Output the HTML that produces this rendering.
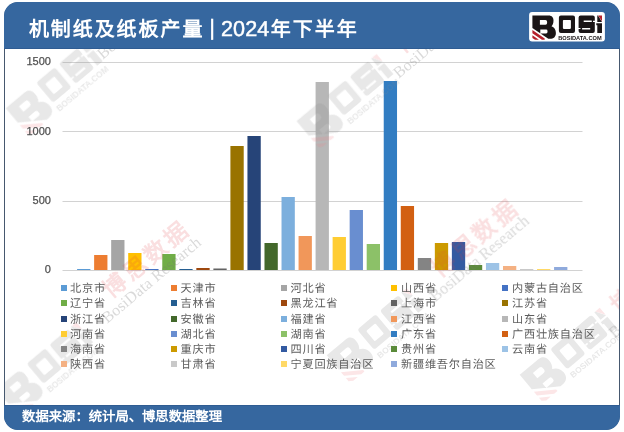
<!DOCTYPE html>
<html lang="zh-CN">
<head>
<meta charset="utf-8">
<title>机制纸及纸板产量 | 2024年下半年</title>
<style>
html,body{margin:0;padding:0;background:#fff;}
body{width:624px;height:432px;position:relative;overflow:hidden;font-family:"Liberation Sans",sans-serif;}
.panel{position:absolute;left:4px;top:2px;width:616px;height:427.5px;border-radius:14px;overflow:hidden;}
.frame{position:absolute;left:4px;top:2px;width:616px;height:427.5px;border-radius:14px;box-sizing:border-box;border:1.1px solid #46586F;pointer-events:none;}
.hdr{position:absolute;left:0;top:0;width:616px;height:46.5px;background:#36679F;box-sizing:border-box;border-bottom:1px solid #2F5C92;}
.ftr{position:absolute;left:0;top:403.2px;width:616px;height:25px;background:#36679F;box-sizing:border-box;border-top:1px solid #2F5C92;}
.title{position:absolute;left:28.9px;top:14.4px;color:#fff;line-height:30px;white-space:nowrap;text-rendering:geometricPrecision;font-size:20px;font-weight:700;}
.title .cj{letter-spacing:1.93px;}
.title .cj2{letter-spacing:2.0px;}
.title .bar{font-size:22px;font-weight:400;margin-left:-1.11px;white-space:pre;position:relative;top:-1.7px;-webkit-text-stroke:0.4px #fff;}
.title .num{font-size:21.6px;font-weight:400;letter-spacing:0.15px;margin-left:-0.31px;position:relative;top:-0.6px;-webkit-text-stroke:0.45px #fff;}
.src{position:absolute;left:22.1px;top:406.5px;color:#fff;font-size:13.34px;text-rendering:geometricPrecision;font-weight:700;line-height:20px;white-space:nowrap;}
svg{position:absolute;left:0;top:0;}
.yl{position:absolute;left:0;width:50.9px;text-align:right;font-size:11px;line-height:14px;color:#505050;-webkit-text-stroke:0.25px #505050;}
.m{position:absolute;width:6.5px;height:6px;display:block;}
.lg{position:absolute;font-size:11.2px;letter-spacing:0.75px;line-height:16px;color:#5c5c5c;white-space:nowrap;text-rendering:geometricPrecision;}
.k{fill:currentColor;} .r{fill:var(--r);}
.wm{color:#8c8c8c;--r:#f08088;}
.hl{color:#1a1516;--r:#B5202B;}
</style>
</head>
<body>
<svg width="624" height="432" viewBox="0 0 624 432">
<defs>
<symbol id="logo" viewBox="0 0 78 32" overflow="visible">
  <!-- B -->
  <path class="k" fill-rule="evenodd" d="M3.3 3.5 H19.5 C23 3.5 24.4 5.6 24.4 8.6 C24.4 11.4 23.6 13.2 22.4 14.4 C25.2 15.6 26.8 17.8 26.8 21 C26.8 25 24.4 26.8 21 26.8 H19.2 L3.3 16 Z
     M10.8 8.2 h5.6 q1.6 0 1.6 1.6 v1.4 q0 1.6 -1.6 1.6 h-5.6 Z
     M11.2 17.7 h5.8 q1.4 0 1.4 1.4 v1.0 q0 1.4 -1.4 1.4 h-5.8 Z"/>
  <!-- red stripes -->
  <path class="r" d="M3.3 18.2 L15.6 26.6 V27.9 H12.8 L3.3 21.4 Z M3.3 23.4 L9.8 27.9 H5.9 L3.3 26.1 Z"/>
  <!-- O -->
  <path class="k" fill-rule="evenodd" d="M31.8 3.5 h12.1 q2 0 2 2 v13.5 q0 2 -2 2 h-12.1 q-2 0 -2 -2 v-13.5 q0 -2 2 -2 Z M34.6 8 h6.4 q0.8 0 0.8 0.8 v7.4 q0 0.8 -0.8 0.8 h-6.4 q-0.8 0 -0.8 -0.8 v-7.4 q0 -0.8 0.8 -0.8 Z"/>
  <!-- S -->
  <path class="k" fill-rule="evenodd" d="M51.5 3.5 h12.2 q2 0 2 2 v13.5 q0 2 -2 2 h-12.2 q-2 0 -2 -2 v-13.5 q0 -2 2 -2 Z
     M54.6 8.5 h8.1 v1.5 h-8.1 Z M63.9 8.9 h1.8 v1.1 h-1.8 Z
     M53.0 16.0 h8.1 v1.5 h-8.1 Z M49.5 16.0 h1.9 v1.1 h-1.9 Z"/>
  <!-- i -->
  <path class="k" d="M68.2 3.5 H68.9 L72.9 10.0 H68.2 Z M67.2 11.4 H72.9 V21 H68.2 V13.4 H67.2 Z"/>
  <path class="r" d="M69.1 3.5 H72.9 V9.6 Z"/>
  <text class="k" x="29.1" y="28.1" font-family="Liberation Sans, sans-serif" font-weight="700" font-size="5.5" textLength="43.4" lengthAdjust="spacingAndGlyphs">BOSIDATA.COM</text>
</symbol>
<clipPath id="wc"><rect x="5" y="48" width="614" height="357"/></clipPath>
</defs>
<g>
<rect x="62.5" y="62" width="520" height="1" fill="#D2D2D2"/>
<rect x="62.5" y="131" width="520" height="1" fill="#D2D2D2"/>
<rect x="62.5" y="201" width="520" height="1" fill="#D2D2D2"/>
<rect x="62.5" y="270" width="520" height="1" fill="#D2D2D2"/>
<rect x="77.10" y="269.00" width="13.3" height="1.00" fill="#5B9BD5"/>
<rect x="94.13" y="255.00" width="13.3" height="15.00" fill="#ED7D31"/>
<rect x="111.17" y="240.00" width="13.3" height="30.00" fill="#A5A5A5"/>
<rect x="128.20" y="253.00" width="13.3" height="17.00" fill="#FFC000"/>
<rect x="145.24" y="269.00" width="13.3" height="1.00" fill="#4472C4"/>
<rect x="162.27" y="254.00" width="13.3" height="16.00" fill="#70AD47"/>
<rect x="179.31" y="269.00" width="13.3" height="1.00" fill="#255E91"/>
<rect x="196.34" y="268.00" width="13.3" height="2.00" fill="#9E480E"/>
<rect x="213.38" y="268.50" width="13.3" height="1.50" fill="#636363"/>
<rect x="230.41" y="146.00" width="13.3" height="124.00" fill="#997300"/>
<rect x="247.45" y="136.00" width="13.3" height="134.00" fill="#264478"/>
<rect x="264.49" y="243.00" width="13.3" height="27.00" fill="#43682B"/>
<rect x="281.52" y="197.00" width="13.3" height="73.00" fill="#7CAFDD"/>
<rect x="298.56" y="236.00" width="13.3" height="34.00" fill="#F1975A"/>
<rect x="315.59" y="82.00" width="13.3" height="188.00" fill="#B7B7B7"/>
<rect x="332.62" y="237.00" width="13.3" height="33.00" fill="#FFCD33"/>
<rect x="349.66" y="210.00" width="13.3" height="60.00" fill="#698ED0"/>
<rect x="366.70" y="244.00" width="13.3" height="26.00" fill="#8CC168"/>
<rect x="383.73" y="81.00" width="13.3" height="189.00" fill="#327DC2"/>
<rect x="400.76" y="206.00" width="13.3" height="64.00" fill="#D26012"/>
<rect x="417.80" y="258.00" width="13.3" height="12.00" fill="#848484"/>
<rect x="434.84" y="243.00" width="13.3" height="27.00" fill="#CC9A00"/>
<rect x="451.87" y="242.00" width="13.3" height="28.00" fill="#335AA1"/>
<rect x="468.90" y="265.00" width="13.3" height="5.00" fill="#5A8A39"/>
<rect x="485.94" y="263.00" width="13.3" height="7.00" fill="#9DC3E6"/>
<rect x="502.98" y="266.00" width="13.3" height="4.00" fill="#F4B183"/>
<rect x="520.01" y="269.00" width="13.3" height="1.00" fill="#C9C9C9"/>
<rect x="537.04" y="269.00" width="13.3" height="1.00" fill="#FFD966"/>
<rect x="554.08" y="267.00" width="13.3" height="3.00" fill="#8FAADC"/>
</g>
<g clip-path="url(#wc)">
<g class="wm" opacity="0.20">
<g transform="translate(54 85) rotate(-40) scale(1.5) translate(-37.9 -12.3)"><use href="#logo" width="78" height="32"/></g>
<g transform="translate(344.8 97.9) rotate(-40) scale(1.5) translate(-37.9 -12.3)"><use href="#logo" width="78" height="32"/></g>
<g transform="translate(44.5 366) rotate(-40) scale(1.5) translate(-37.9 -12.3)"><use href="#logo" width="78" height="32"/></g>
<g transform="translate(568 351.6) rotate(-40) scale(1.5) translate(-37.9 -12.3)"><use href="#logo" width="78" height="32"/></g>
<g transform="translate(375 332) rotate(-40) scale(1.5) translate(-37.9 -12.3)"><use href="#logo" width="78" height="32"/></g>
</g>
<g>
<g transform="translate(175.4 234) rotate(-40)"><text x="-90.7" y="8.6" font-family="Liberation Serif, serif" font-weight="700" font-size="23" fill="#E23A44" fill-opacity="0.165" letter-spacing="3.4">博思数据</text><text x="-110" y="25" font-family="Liberation Serif, serif" font-size="16" fill="#777" fill-opacity="0.28" textLength="124" lengthAdjust="spacing">BosiData Research</text></g>
<g transform="translate(503.5 212.5) rotate(-40)"><text x="-90.7" y="8.6" font-family="Liberation Serif, serif" font-weight="700" font-size="23" fill="#E23A44" fill-opacity="0.165" letter-spacing="3.4">博思数据</text><text x="-110" y="25" font-family="Liberation Serif, serif" font-size="16" fill="#777" fill-opacity="0.28" textLength="124" lengthAdjust="spacing">BosiData Research</text></g>
<g transform="translate(467 -11) rotate(-40)"><text x="-90.7" y="8.6" font-family="Liberation Serif, serif" font-weight="700" font-size="23" fill="#E23A44" fill-opacity="0.165" letter-spacing="3.4">博思数据</text><text x="-110" y="25" font-family="Liberation Serif, serif" font-size="16" fill="#777" fill-opacity="0.28" textLength="124" lengthAdjust="spacing">BosiData Research</text></g>
<g transform="translate(171 -30) rotate(-40)"><text x="-90.7" y="8.6" font-family="Liberation Serif, serif" font-weight="700" font-size="23" fill="#E23A44" fill-opacity="0.165" letter-spacing="3.4">博思数据</text><text x="-110" y="25" font-family="Liberation Serif, serif" font-size="16" fill="#777" fill-opacity="0.28" textLength="124" lengthAdjust="spacing">BosiData Research</text></g>
<g transform="translate(682.7 249) rotate(-40)"><text x="-90.7" y="8.6" font-family="Liberation Serif, serif" font-weight="700" font-size="23" fill="#E23A44" fill-opacity="0.165" letter-spacing="3.4">博思数据</text><text x="-110" y="25" font-family="Liberation Serif, serif" font-size="16" fill="#777" fill-opacity="0.28" textLength="124" lengthAdjust="spacing">BosiData Research</text></g>
</g>
</g>
</svg>
<span class="yl" style="top:53.9px">1500</span>
<span class="yl" style="top:123.8px">1000</span>
<span class="yl" style="top:193.2px">500</span>
<span class="yl" style="top:262.0px">0</span>
<i class="m" style="left:60.5px;top:284.85px;background:#5B9BD5"></i><span class="lg" style="left:70px;top:280.75px">北京市</span>
<i class="m" style="left:170.5px;top:284.85px;background:#ED7D31"></i><span class="lg" style="left:180.5px;top:280.75px">天津市</span>
<i class="m" style="left:280.7px;top:284.85px;background:#A5A5A5"></i><span class="lg" style="left:290.5px;top:280.75px">河北省</span>
<i class="m" style="left:390.7px;top:284.85px;background:#FFC000"></i><span class="lg" style="left:401px;top:280.75px">山西省</span>
<i class="m" style="left:501.5px;top:284.85px;background:#4472C4"></i><span class="lg" style="left:512px;top:280.75px">内蒙古自治区</span>
<i class="m" style="left:60.5px;top:300.10px;background:#70AD47"></i><span class="lg" style="left:70px;top:296.00px">辽宁省</span>
<i class="m" style="left:170.5px;top:300.10px;background:#255E91"></i><span class="lg" style="left:180.5px;top:296.00px">吉林省</span>
<i class="m" style="left:280.7px;top:300.10px;background:#9E480E"></i><span class="lg" style="left:290.5px;top:296.00px">黑龙江省</span>
<i class="m" style="left:390.7px;top:300.10px;background:#636363"></i><span class="lg" style="left:401px;top:296.00px">上海市</span>
<i class="m" style="left:501.5px;top:300.10px;background:#997300"></i><span class="lg" style="left:512px;top:296.00px">江苏省</span>
<i class="m" style="left:60.5px;top:315.60px;background:#264478"></i><span class="lg" style="left:70px;top:311.50px">浙江省</span>
<i class="m" style="left:170.5px;top:315.60px;background:#43682B"></i><span class="lg" style="left:180.5px;top:311.50px">安徽省</span>
<i class="m" style="left:280.7px;top:315.60px;background:#7CAFDD"></i><span class="lg" style="left:290.5px;top:311.50px">福建省</span>
<i class="m" style="left:390.7px;top:315.60px;background:#F1975A"></i><span class="lg" style="left:401px;top:311.50px">江西省</span>
<i class="m" style="left:501.5px;top:315.60px;background:#B7B7B7"></i><span class="lg" style="left:512px;top:311.50px">山东省</span>
<i class="m" style="left:60.5px;top:330.85px;background:#FFCD33"></i><span class="lg" style="left:70px;top:326.75px">河南省</span>
<i class="m" style="left:170.5px;top:330.85px;background:#698ED0"></i><span class="lg" style="left:180.5px;top:326.75px">湖北省</span>
<i class="m" style="left:280.7px;top:330.85px;background:#8CC168"></i><span class="lg" style="left:290.5px;top:326.75px">湖南省</span>
<i class="m" style="left:390.7px;top:330.85px;background:#327DC2"></i><span class="lg" style="left:401px;top:326.75px">广东省</span>
<i class="m" style="left:501.5px;top:330.85px;background:#D26012"></i><span class="lg" style="left:512px;top:326.75px">广西壮族自治区</span>
<i class="m" style="left:60.5px;top:346.10px;background:#848484"></i><span class="lg" style="left:70px;top:342.00px">海南省</span>
<i class="m" style="left:170.5px;top:346.10px;background:#CC9A00"></i><span class="lg" style="left:180.5px;top:342.00px">重庆市</span>
<i class="m" style="left:280.7px;top:346.10px;background:#335AA1"></i><span class="lg" style="left:290.5px;top:342.00px">四川省</span>
<i class="m" style="left:390.7px;top:346.10px;background:#5A8A39"></i><span class="lg" style="left:401px;top:342.00px">贵州省</span>
<i class="m" style="left:501.5px;top:346.10px;background:#9DC3E6"></i><span class="lg" style="left:512px;top:342.00px">云南省</span>
<i class="m" style="left:60.5px;top:361.35px;background:#F4B183"></i><span class="lg" style="left:70px;top:357.25px">陕西省</span>
<i class="m" style="left:170.5px;top:361.35px;background:#C9C9C9"></i><span class="lg" style="left:180.5px;top:357.25px">甘肃省</span>
<i class="m" style="left:280.7px;top:361.35px;background:#FFD966"></i><span class="lg" style="left:290.5px;top:357.25px">宁夏回族自治区</span>
<i class="m" style="left:390.7px;top:361.35px;background:#8FAADC"></i><span class="lg" style="left:401px;top:357.25px">新疆维吾尔自治区</span>
<div class="frame"></div>
<div class="panel">
  <div class="hdr"></div>
  <div class="ftr"></div>
</div>
<svg width="624" height="432" viewBox="0 0 624 432" class="hl">
<rect x="529.1" y="11.9" width="75.8" height="29.7" rx="3" fill="#fff"/>
<use href="#logo" x="529.1" y="11.9" width="78" height="32"/>
</svg>
<div class="title"><span class="cj">机制纸及纸板产量</span><span class="bar"> | </span><span class="num">2024</span><span class="cj2" style="margin-left:1.2px">年下半年</span></div>
<div class="src">数据来源：统计局、博思数据整理</div>
</body>
</html>
